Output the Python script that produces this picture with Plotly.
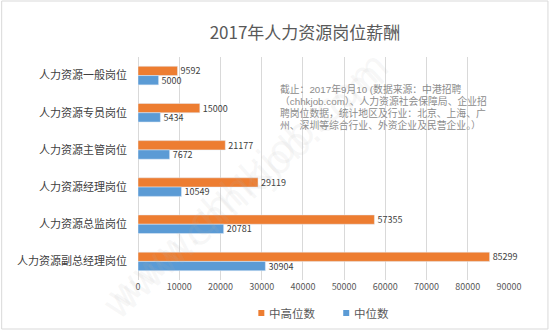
import plotly.graph_objects as go

categories = ["人力资源一般岗位", "人力资源专员岗位", "人力资源主管岗位",
              "人力资源经理岗位", "人力资源总监岗位", "人力资源副总经理岗位"]
upper_median = [9592, 15000, 21177, 29119, 57355, 85299]
median = [5000, 5434, 7672, 10549, 20781, 30904]
x_ticks = [0, 10000, 20000, 30000, 40000, 50000, 60000, 70000, 80000, 90000]
series_names = ["中高位数", "中位数"]
title_text = "2017年人力资源岗位薪酬"
note_lines = ["截止：2017年9月10 (数据来源：中港招聘",
              "（chhkjob.com）、人力资源社会保障局、企业招",
              "聘岗位数据，统计地区及行业：北京、上海、广",
              "州、深圳等综合行业、外资企业及民营企业。）"]

FONT = "Noto Sans CJK SC"
NOTE_FONT = "Liberation Sans, Noto Sans CJK SC"
ORANGE = "#ED7D31"
BLUE = "#5B9BD5"
colors = [ORANGE, BLUE]

fig = go.Figure()
for name, vals, col in zip(series_names, [upper_median, median], colors):
    fig.add_trace(go.Bar(
        y=categories, x=vals, orientation="h", name=name,
        marker_color=col, text=[str(v) for v in vals],
        textposition="outside", constraintext="none",
        textfont=dict(size=9, color="#404040", family=FONT),
        cliponaxis=False))

L, R, T, B = 137.5, 41, 57, 50
W, H = 550, 330
pw = W - L - R
ph = H - T - B


def px(x):
    return (x - L) / pw


def py(y):
    return (H - B - y) / ph


fig.update_layout(
    width=W, height=H,
    margin=dict(l=L, r=R, t=T, b=B),
    paper_bgcolor="white", plot_bgcolor="white",
    barmode="group", bargap=0.5, bargroupgap=0,
    font=dict(family=FONT, color="#595959"),
    title=dict(text=title_text, x=305 / W, xanchor="center",
               y=1 - 33 / H, yanchor="middle",
               font=dict(size=17, color="#595959", family=FONT)),
    showlegend=False,
    xaxis=dict(range=[0, 90000], tickvals=x_ticks, ticktext=[str(v) for v in x_ticks],
               showgrid=True, gridcolor="#d9d9d9", gridwidth=1,
               zeroline=True, zerolinecolor="#d9d9d9", zerolinewidth=1,
               showline=False, ticks="", ticklen=0,
               tickfont=dict(size=9, color="#595959", family=FONT)),
    yaxis=dict(autorange="reversed", showgrid=False, showline=False, ticks="",
               ticklabelstandoff=10,
               tickfont=dict(size=11, color="#404040", family=FONT)),
)

# note text, one annotation per line
note_x = [279, 279, 279, 279]
note_y = [89, 101, 113, 125]
for line, lx, ly in zip(note_lines, note_x, note_y):
    fig.add_annotation(
        text=line, xref="paper", yref="paper",
        x=px(lx), y=py(ly), xanchor="left", yanchor="middle",
        showarrow=False, align="left", borderpad=0,
        font=dict(size=9.8, color="#8c8c8c", family=NOTE_FONT))

# custom legend
leg_sq_x = [261, 346]
leg_y = 313
for name, col, sx in zip(series_names, colors, leg_sq_x):
    fig.add_shape(type="rect", xref="paper", yref="paper",
                  x0=px(sx - 3), x1=px(sx + 3), y0=py(leg_y + 3), y1=py(leg_y - 3),
                  line=dict(width=0), fillcolor=col)
    fig.add_annotation(text=name, xref="paper", yref="paper",
                       x=px(sx + 6), y=py(leg_y), xanchor="left", yanchor="middle",
                       showarrow=False,
                       font=dict(size=11.5, color="#595959", family=FONT))

# watermark
for cx, cy in [(400, 180), (90, 190)]:
    fig.add_annotation(
        text="www.chhkjob.com", xref="paper", yref="paper",
        x=px(cx), y=py(cy), showarrow=False, textangle=-42,
        font=dict(size=40, color="rgba(180,180,180,0.10)", family="DejaVu Sans"))

fig.add_shape(type="rect", xref="paper", yref="paper",
              x0=px(1), x1=px(548), y0=py(329), y1=py(1),
              line=dict(color="#d9d9d9", width=1), fillcolor="rgba(0,0,0,0)", layer="below")

fig.write_html("out.html")
